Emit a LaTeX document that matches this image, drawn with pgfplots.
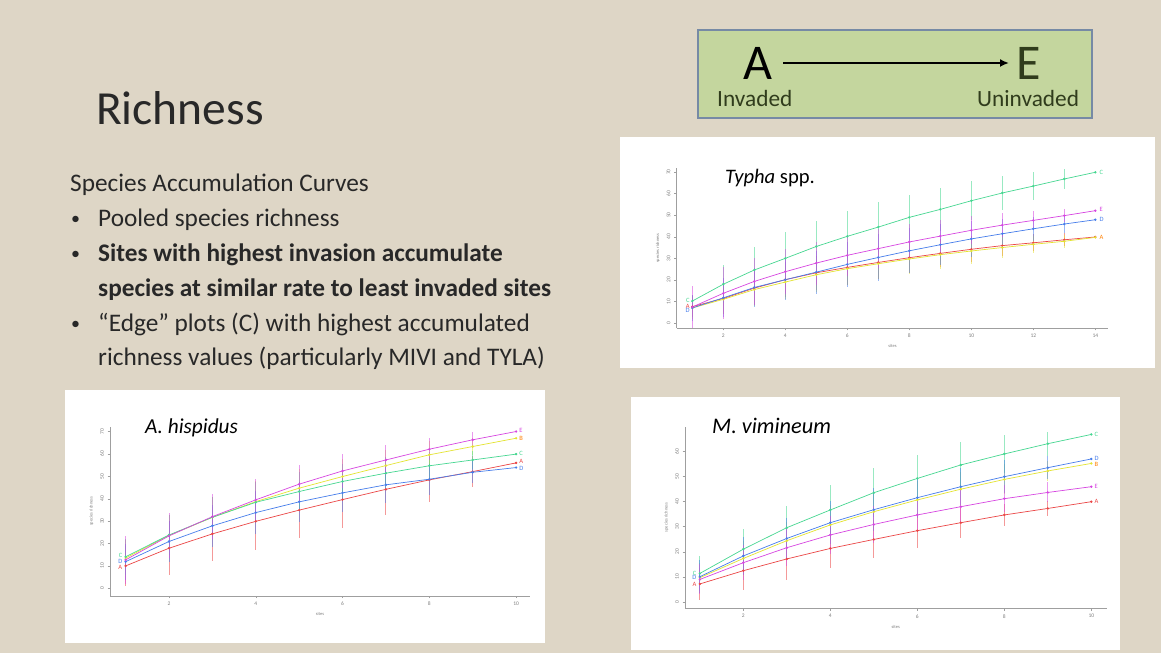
\documentclass[border=0pt]{standalone}
\usepackage{fontspec}
\setmainfont{Carlito}
\usepackage{pgfplots}
\pgfplotsset{compat=1.18}
\usepackage{pgfplotstable}
\usetikzlibrary{arrows.meta}

\definecolor{bg}{RGB}{222,214,198}
\definecolor{boxg}{RGB}{196,214,158}
\definecolor{boxb}{RGB}{118,138,165}
\definecolor{txt}{RGB}{40,40,40}
\definecolor{olive}{RGB}{48,60,28}
\definecolor{cA}{RGB}{235,70,70}
\definecolor{cB}{RGB}{228,228,50}
\definecolor{cC}{RGB}{70,215,145}
\definecolor{cD}{RGB}{70,125,235}
\definecolor{cE}{RGB}{215,70,225}

% ---------- Typha spp. ----------
\pgfplotstableread{
x y e
1 7.6 5
2 11.4 7
3 16.2 8
4 20.1 8
5 23.3 8
6 25.8 8
7 28.1 7.5
8 30.3 7
9 32.3 6.5
10 34.2 6
11 35.9 5
12 37.2 4
13 38.6 3
14 39.9 0
}\TyA
\pgfplotstableread{
x y e
1 7.0 5
2 11.0 7
3 15.5 7.5
4 19.0 8
5 22.4 8
6 25.2 7.5
7 27.5 7
8 29.7 7
9 31.7 6.5
10 33.4 6
11 35.0 5
12 36.5 4
13 37.9 3
14 39.7 0
}\TyB
\pgfplotstableread{
x y e
1 10.2 3
2 18.0 8.7
3 24.6 10.5
4 30.0 12
5 35.5 12
6 40.2 11.6
7 44.5 11.5
8 49.0 10.5
9 52.7 10
10 56.7 9
11 60.3 8
12 63.5 6.5
13 66.8 4.8
14 69.9 0
}\TyC
\pgfplotstableread{
x y e
1 7.0 6
2 11.7 9
3 16.5 9
4 20.1 9.5
5 23.6 10
6 27.2 10.5
7 30.4 11
8 33.5 10.5
9 36.3 9.5
10 39.0 8.5
11 41.4 7
12 43.7 5.5
13 45.9 4
14 47.9 0
}\TyD
\pgfplotstableread{
x y e
1 7.4 9.6
2 13.8 12
3 19.3 11
4 23.8 10.5
5 27.8 10
6 31.4 9.5
7 34.5 9
8 37.6 8.5
9 40.3 7.5
10 43.0 6.5
11 45.4 5.5
12 47.6 4.5
13 49.8 3
14 52.1 0
}\TyE

% ---------- A. hispidus ----------
\pgfplotstableread{
x y e
1 10.0 9
2 17.9 12
3 24.3 12
4 29.9 13
5 34.9 12.5
6 39.6 12.5
7 44.2 11.5
8 48.4 10
9 52.1 7
10 56.0 0
}\AhA
\pgfplotstableread{
x y e
1 13.5 8
2 23.6 9
3 31.7 9
4 38.7 9
5 44.7 8.5
6 49.9 8
7 54.8 7
8 59.6 6
9 63.3 4
10 67.0 0
}\AhB
\pgfplotstableread{
x y e
1 14.1 8
2 23.8 9
3 31.7 9
4 38.4 9
5 43.2 8.5
6 47.7 8
7 51.4 7
8 54.7 6
9 57.3 4
10 59.9 0
}\AhC
\pgfplotstableread{
x y e
1 11.9 8
2 20.9 9
3 27.9 9.5
4 33.8 9.5
5 38.6 9
6 42.6 8.5
7 46.2 8
8 48.7 7
9 51.8 5
10 53.9 0
}\AhD
\pgfplotstableread{
x y e
1 12.7 10.7
2 23.4 10
3 32.0 10
4 39.5 9.5
5 46.5 8.5
6 52.4 7.5
7 57.3 6.5
8 62.1 5
9 66.3 3.5
10 70.0 0
}\AhE

% ---------- M. vimineum ----------
\pgfplotstableread{
x y e
1 7.1 6.4
2 12.4 7.8
3 17.1 8.4
4 21.3 8
5 24.9 7.6
6 28.4 7
7 31.6 6
8 34.7 4.5
9 37.3 3
10 40.0 0
}\MvA
\pgfplotstableread{
x y e
1 9.6 6
2 17.3 7
3 24.4 7.5
4 30.7 8
5 36.0 8
6 40.7 7.5
7 45.0 7
8 48.9 6
9 52.3 4
10 55.3 0
}\MvB
\pgfplotstableread{
x y e
1 11.3 7
2 21.0 8
3 29.6 8.5
4 36.7 10
5 43.6 9.7
6 49.3 9.4
7 54.7 9
8 59.1 7.6
9 63.2 4.8
10 66.9 0
}\MvC
\pgfplotstableread{
x y e
1 10.0 6.5
2 18.3 7.5
3 25.3 8
4 31.6 8.5
5 36.8 8.5
6 41.6 8
7 46.0 7.5
8 50.0 6.5
9 53.6 4.5
10 57.1 0
}\MvD
\pgfplotstableread{
x y e
1 8.9 6
2 15.6 7
3 21.6 7.5
4 26.7 7.5
5 30.9 7.5
6 34.7 7
7 38.0 6.5
8 41.2 5.5
9 43.7 4
10 46.0 0
}\MvE

\pgfplotsset{
  rplot/.style={scale only axis, axis x line=bottom, axis y line=left,
    axis line style={gray!75,-}, tick style={gray!75, line width=0.4pt},
    tick align=outside, major tick length=2.5pt,
    ticklabel style={font=\fontsize{5.5}{6}\selectfont, text=gray},
    y tick label style={rotate=90},
    /pgf/number format/assume math mode=true,
    xlabel={sites}, ylabel={species richness},
    label style={font=\fontsize{4.5}{5}\selectfont, text=gray},
    clip=false},
  ser/.style={#1, line width=0.7pt, mark=*, mark size=0.8pt,
    error bars/y dir=both, error bars/y explicit,
    error bars/error mark=none,
    error bars/error bar style={#1, line width=1pt, opacity=0.55}}
}
\tikzset{lab/.style={font=\fontsize{6.5}{7}\selectfont, text=#1, inner sep=1pt}}

\begin{document}
\begin{tikzpicture}
\fill[bg] (0pt,0pt) rectangle (1161pt,653pt);

% title and text
\node[anchor=base west, inner sep=0, text=txt, font=\fontsize{47.5}{52}\selectfont] at (96pt,528pt) {Richness};
\begin{scope}[every node/.style={anchor=base west, inner sep=0, text=txt, font=\fontsize{25.3}{30}\selectfont}]
\node at (70pt,461.3pt) {Species Accumulation Curves};
\node[font=\fontsize{18}{20}\selectfont] at (71pt,428pt) {•};
\node at (98pt,426.3pt) {Pooled species richness};
\node[font=\fontsize{18}{20}\selectfont] at (71pt,393pt) {•};
\node at (98pt,391.3pt) {\bfseries Sites with highest invasion accumulate};
\node at (98pt,356.3pt) {\bfseries species at similar rate to least invaded sites};
\node[font=\fontsize{18}{20}\selectfont] at (71pt,323pt) {•};
\node at (98pt,321.3pt) {“Edge” plots (C) with highest accumulated};
\node at (98pt,287pt) {richness values (particularly MIVI and TYLA)};
\end{scope}

% A -> E box
\draw[boxb, line width=1.3pt, fill=boxg] (698pt,535pt) rectangle (1092pt,623pt);
\node[anchor=base, inner sep=0, font=\fontsize{50}{55}\selectfont, text=black] at (757.5pt,573pt) {A};
\node[anchor=base, inner sep=0, font=\fontsize{50}{55}\selectfont, text=olive] at (1029pt,573pt) {E};
\draw[-{Latex[length=9pt,width=8pt]}, line width=2.2pt] (783pt,590pt) -- (1009pt,590pt);
\node[anchor=base west, inner sep=0, font=\fontsize{23.3}{27}\selectfont, text=olive] at (717pt,546pt) {Invaded};
\node[anchor=base west, inner sep=0, font=\fontsize{23.3}{27}\selectfont, text=olive] at (977pt,546pt) {Uninvaded};

% white panels
\fill[white] (620pt,285pt) rectangle (1155pt,516pt);
\fill[white] (65pt,10pt) rectangle (545pt,263pt);
\fill[white] (631pt,3pt) rectangle (1120pt,256pt);

% ---- Typha ----
\begin{axis}[rplot, at={(676.5pt,325pt)}, anchor=south west,
  width=431.8pt, height=159.6pt,
  xmin=0.49, xmax=14.42, ymin=-2.3, ymax=71.7,
  xtick={2,4,...,14}, ytick={0,10,...,70}]
\addplot[ser=cA] table[x=x,y=y,y error=e] {\TyA};
\addplot[ser=cB] table[x=x,y=y,y error=e] {\TyB};
\addplot[ser=cC] table[x=x,y=y,y error=e] {\TyC};
\addplot[ser=cD] table[x=x,y=y,y error=e] {\TyD};
\addplot[ser=cE] table[x=x,y=y,y error=e] {\TyE};
\node[lab=cC, anchor=west] at (axis cs:14.1,69.9) {C};
\node[lab=cE, anchor=west] at (axis cs:14.1,52.6) {E};
\node[lab=cD, anchor=west] at (axis cs:14.1,47.9) {D};
\node[lab=orange, anchor=west] at (axis cs:14.1,39.9) {A};
\node[lab=cC, anchor=east] at (axis cs:0.95,10.5) {C};
\node[lab=cA, anchor=east] at (axis cs:0.95,7.8) {A};
\node[lab=cD, anchor=east] at (axis cs:0.95,5.8) {D};
\end{axis}
\node[anchor=base west, inner sep=0, font=\fontsize{20.6}{24}\selectfont, text=black] at (725pt,469.7pt) {\itshape Typha\upshape\ spp.};

% ---- A. hispidus ----
\begin{axis}[rplot, at={(110pt,57.3pt)}, anchor=south west,
  width=420pt, height=168.9pt,
  xmin=0.64, xmax=10.32, ymin=-3.3, ymax=72.1,
  xtick={2,4,...,10}, ytick={0,10,...,70}]
\addplot[ser=cA] table[x=x,y=y,y error=e] {\AhA};
\addplot[ser=cB] table[x=x,y=y,y error=e] {\AhB};
\addplot[ser=cC] table[x=x,y=y,y error=e] {\AhC};
\addplot[ser=cD] table[x=x,y=y,y error=e] {\AhD};
\addplot[ser=cE] table[x=x,y=y,y error=e] {\AhE};
\node[lab=cE, anchor=west] at (axis cs:10.05,70.3) {E};
\node[lab=orange, anchor=west] at (axis cs:10.05,67) {B};
\node[lab=cC, anchor=west] at (axis cs:10.05,60) {C};
\node[lab=cA, anchor=west] at (axis cs:10.05,56.5) {A};
\node[lab=cD, anchor=west] at (axis cs:10.05,53.5) {D};
\node[lab=cC, anchor=east] at (axis cs:0.95,14.5) {C};
\node[lab=cD, anchor=east] at (axis cs:0.95,12) {D};
\node[lab=cA, anchor=east] at (axis cs:0.95,9.5) {A};
\end{axis}
\node[anchor=base west, inner sep=0, font=\fontsize{21.3}{24}\selectfont, text=black] at (145pt,219.7pt) {\itshape A. hispidus};

% ---- M. vimineum ----
\begin{axis}[rplot, at={(685pt,44.7pt)}, anchor=south west,
  width=421.5pt, height=181.6pt,
  xmin=0.66, xmax=10.35, ymin=-2.64, ymax=70,
  xtick={2,4,...,10}, ytick={0,10,...,60}]
\addplot[ser=cA] table[x=x,y=y,y error=e] {\MvA};
\addplot[ser=cB] table[x=x,y=y,y error=e] {\MvB};
\addplot[ser=cC] table[x=x,y=y,y error=e] {\MvC};
\addplot[ser=cD] table[x=x,y=y,y error=e] {\MvD};
\addplot[ser=cE] table[x=x,y=y,y error=e] {\MvE};
\node[lab=cC, anchor=west] at (axis cs:10.05,66.9) {C};
\node[lab=cD, anchor=west] at (axis cs:10.05,57.3) {D};
\node[lab=orange, anchor=west] at (axis cs:10.05,55) {B};
\node[lab=cE, anchor=west] at (axis cs:10.05,46) {E};
\node[lab=cA, anchor=west] at (axis cs:10.05,40) {A};
\node[lab=cC, anchor=east] at (axis cs:0.95,11.5) {C};
\node[lab=cD, anchor=east] at (axis cs:0.95,9.8) {D};
\node[lab=cA, anchor=east] at (axis cs:0.95,7) {A};
\end{axis}
\node[anchor=base west, inner sep=0, font=\fontsize{22.3}{25}\selectfont, text=black] at (712pt,219.7pt) {\itshape M. vimineum};
\end{tikzpicture}
\end{document}
